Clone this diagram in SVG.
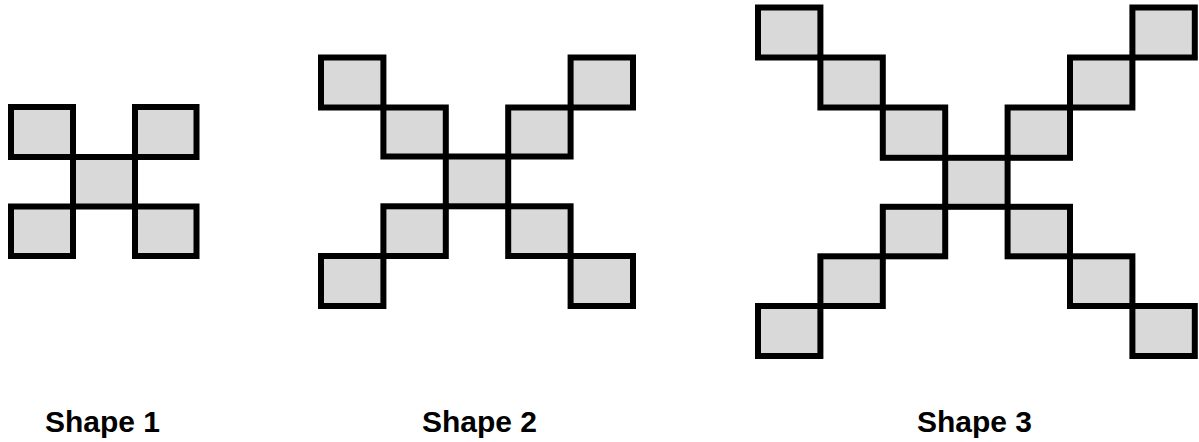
<svg xmlns="http://www.w3.org/2000/svg" width="1199" height="442" viewBox="0 0 1199 442">
  <style>
    .cell { fill: #d9d9d9; stroke: #000; stroke-width: 6; stroke-linejoin: miter; }
    .label { font-family: "Liberation Sans", Arial, sans-serif; font-weight: bold; font-size: 30px; fill: #000; }
  </style>
  <rect width="1199" height="442" fill="#fff"/>

  <!-- Shape 1: five cells in an X -->
  <g id="shape1">
    <rect class="cell" x="11" y="107" width="62" height="50"/>
    <rect class="cell" x="135" y="107" width="61.5" height="50"/>
    <rect class="cell" x="73" y="157" width="62" height="49.5"/>
    <rect class="cell" x="11" y="206.5" width="62" height="49.5"/>
    <rect class="cell" x="135" y="206.5" width="61.5" height="49.5"/>
  </g>

  <!-- Shape 2: nine cells in an X -->
  <g id="shape2">
    <rect class="cell" x="321" y="57.5" width="62.4" height="50"/>
    <rect class="cell" x="570.6" y="57.5" width="62.4" height="50"/>
    <rect class="cell" x="383.4" y="107.5" width="62.4" height="49"/>
    <rect class="cell" x="508.2" y="107.5" width="62.4" height="49"/>
    <rect class="cell" x="445.8" y="156.5" width="62.4" height="49.8"/>
    <rect class="cell" x="383.4" y="206.3" width="62.4" height="49.7"/>
    <rect class="cell" x="508.2" y="206.3" width="62.4" height="49.7"/>
    <rect class="cell" x="321" y="256" width="62.4" height="50"/>
    <rect class="cell" x="570.6" y="256" width="62.4" height="50"/>
  </g>

  <!-- Shape 3: thirteen cells in an X -->
  <g id="shape3">
    <rect class="cell" x="758" y="7.5" width="62.4" height="50"/>
    <rect class="cell" x="1132.4" y="7.5" width="62.4" height="50"/>
    <rect class="cell" x="820.4" y="57.5" width="62.4" height="50"/>
    <rect class="cell" x="1070" y="57.5" width="62.4" height="50"/>
    <rect class="cell" x="882.8" y="107.5" width="62.4" height="50.3"/>
    <rect class="cell" x="1007.6" y="107.5" width="62.4" height="50.3"/>
    <rect class="cell" x="945.2" y="157.8" width="62.4" height="49"/>
    <rect class="cell" x="882.8" y="206.8" width="62.4" height="49.5"/>
    <rect class="cell" x="1007.6" y="206.8" width="62.4" height="49.5"/>
    <rect class="cell" x="820.4" y="256.3" width="62.4" height="49.7"/>
    <rect class="cell" x="1070" y="256.3" width="62.4" height="49.7"/>
    <rect class="cell" x="758" y="306" width="62.4" height="50"/>
    <rect class="cell" x="1132.4" y="306" width="62.4" height="50"/>
  </g>

  <!-- Captions -->
  <g id="captions">
    <text class="label" x="45" y="432">Shape 1</text>
    <text class="label" x="422" y="432">Shape 2</text>
    <text class="label" x="917" y="432">Shape 3</text>
  </g>
</svg>
